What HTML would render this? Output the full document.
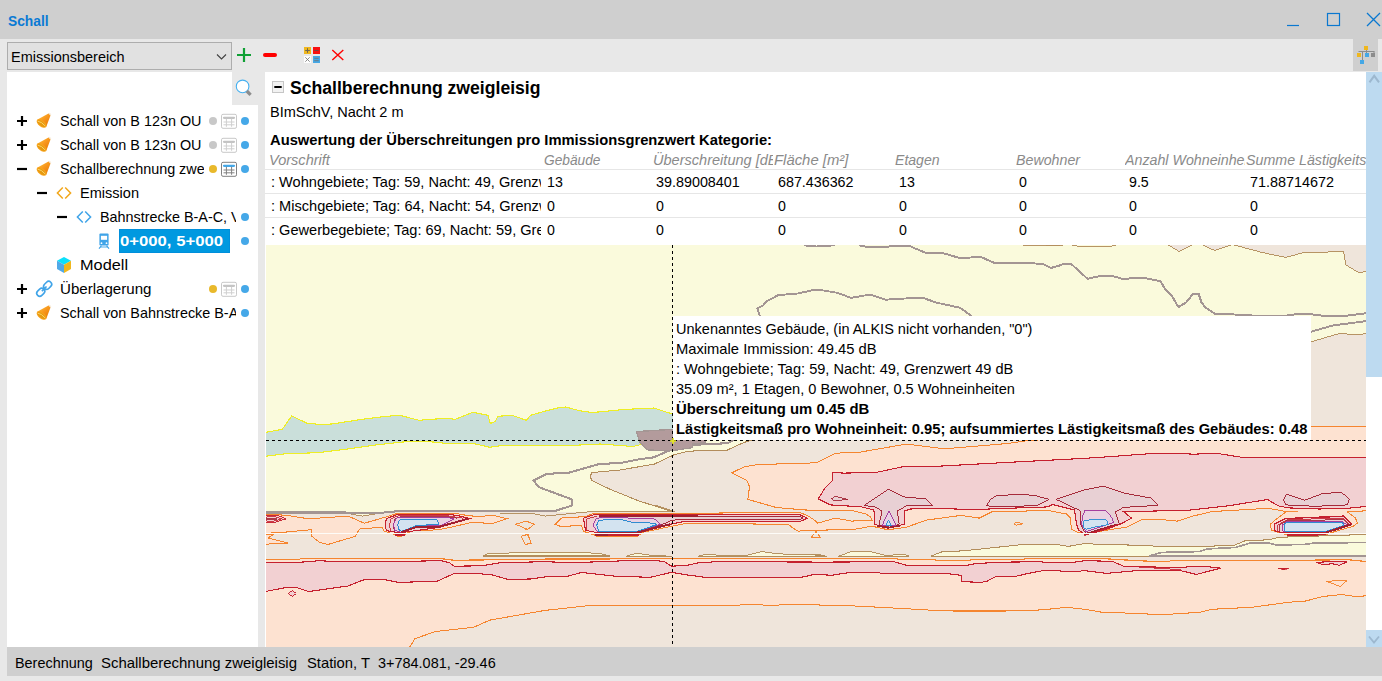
<!DOCTYPE html>
<html>
<head>
<meta charset="utf-8">
<title>Schall</title>
<style>
html,body{margin:0;padding:0;}
body{width:1382px;height:681px;overflow:hidden;background:#e8e8e8;font-family:"Liberation Sans",sans-serif;color:#000;position:relative;}
.abs{position:absolute;}
.t{position:absolute;white-space:nowrap;line-height:1;}
#titlebar{left:0;top:0;width:1382px;height:38.5px;background:#cfcfcf;}
#toolbar{left:0;top:38.5px;width:1382px;height:33.5px;background:#e8e8e8;}
#combo{left:7px;top:42px;width:223px;height:26px;border:1px solid #adadad;background:#e1e1e1;}
#leftpanel{left:7px;top:72px;width:251px;height:575px;background:#fff;}
#searchbtn{left:232px;top:72px;width:26px;height:33px;background:#e8e8e8;}
#rightpanel{left:265px;top:72px;width:1101px;height:575px;background:#fff;}
#statusbar{left:7px;top:647px;width:1375px;height:29px;background:#cfcfcf;}
#bottom{left:0;top:676px;width:1382px;height:5px;background:#e8e8e8;}
.tree{font-size:15px;}
.hd{font-size:15px;font-style:italic;color:#808080;}
.cell{font-size:15px;}
.tip{font-size:15px;}
.b{font-weight:bold;}
</style>
</head>
<body>
<div id="titlebar" class="abs"></div>
<div id="toolbar" class="abs"></div>
<div id="combo" class="abs"></div>
<div id="leftpanel" class="abs"></div>
<div id="searchbtn" class="abs"></div>
<div id="rightpanel" class="abs"></div>
<div id="statusbar" class="abs"></div>
<div id="bottom" class="abs"></div>

<div class="abs" style="left:265px;top:169px;width:1101px;height:1px;background:#e6e6e6"></div>
<div class="abs" style="left:265px;top:193px;width:1101px;height:1px;background:#e6e6e6"></div>
<div class="abs" style="left:265px;top:217px;width:1101px;height:1px;background:#e6e6e6"></div>
<div class="abs" style="left:119px;top:229px;width:109px;height:22px;background:#0099e0;border:1px solid #008fdb"></div>
<div class="abs" id="sbthumb" style="left:1366px;top:72px;width:16px;height:305px;background:#bddaf0"></div>
<div class="abs" id="sbtrack" style="left:1366px;top:377px;width:16px;height:253px;background:#fff"></div>
<div class="abs" id="sbdown" style="left:1366px;top:630px;width:16px;height:17px;background:#bddaf0"></div>
<div class="abs" id="treebtn" style="left:1353px;top:39px;width:25px;height:32px;background:#cfcfcf"></div>
<!-- MAP -->
<svg id="map" class="abs" style="left:266px;top:245px" width="1100" height="402" viewBox="266 245 1100 402" shape-rendering="crispEdges">
<rect x="260" y="245" width="1110" height="402" fill="#fafadc"/>
<!--MAP-START-->
<path d="M752.0,440.0 L743.6,442.6 L727.4,450.0 L698.0,450.7 L687.8,451.4 L674.5,454.6 L654.0,464.2 L618.7,470.2 L591.9,472.5 L590.2,476.5 L591.9,480.6 L610.1,489.3 L638.5,500.8 L671.9,511.4 L555.0,512.3 L400.0,511.0 L382.0,512.7 L260.0,512.3 L260.0,647.0 L1372.0,647.0 L1372.0,333.3 L1354.0,334.7 L1340.0,333.3 L1311.0,341.8 Z" fill="#efe5db"/>
<path d="M1234.0,244.9 L1261.3,252.3 L1285.7,257.4 L1303.0,252.7 L1343.5,251.6 L1345.9,265.0 L1359.7,273.1 L1372.0,269.2 L1372.0,245.0 L1234.0,245.0 Z" fill="#efe5db"/>
<path d="M1234.0,244.9 L1261.3,252.3 L1285.7,257.4 L1303.0,252.7 L1343.5,251.6 L1345.9,265.0 L1359.7,273.1 L1372.0,269.2" fill="none" stroke="#b38d5c" stroke-width="0.94"/>
<path d="M1168.3,244.9 L1179.1,251.6 L1191.9,244.9 Z" fill="#efe5db"/>
<path d="M1168.3,244.9 L1179.1,251.6 L1191.9,244.9" fill="none" stroke="#b38d5c" stroke-width="0.94"/>
<path d="M1202.3,244.9 L1214.6,250.4 L1231.2,244.9 Z" fill="#efe5db"/>
<path d="M1202.3,244.9 L1214.6,250.4 L1231.2,244.9" fill="none" stroke="#b38d5c" stroke-width="0.94"/>
<path d="M1046.0,245.8 L1063.4,245.3" fill="none" stroke="#b38d5c" stroke-width="0.94"/>
<path d="M1071.9,245.3 L1080.7,246.5 L1108.5,246.5 L1115.5,245.3" fill="none" stroke="#b38d5c" stroke-width="0.94"/>
<path d="M1023.0,245.3 L1060.0,245.3" fill="none" stroke="#b38d5c" stroke-width="0.94"/>
<path d="M260.0,433.3 L282.2,429.4 L291.7,415.9 L306.5,423.0 L318.7,424.4 L331.9,424.0 L362.3,419.3 L386.6,416.3 L399.7,415.3 L419.0,420.3 L445.3,418.3 L455.4,419.3 L472.7,412.2 L487.9,415.3 L490.3,423.4 L495.0,421.7 L498.0,416.3 L512.2,415.3 L526.4,420.3 L530.4,415.3 L545.0,411.2 L560.0,407.3 L566.0,407.0 L579.0,410.6 L592.3,412.5 L604.0,411.5 L623.0,409.5 L654.0,408.0 L662.8,411.0 L672.5,414.0 L672.5,444.0 L642.0,444.2 L633.0,446.5 L600.0,444.0 L570.0,445.5 L545.0,445.2 L504.1,445.2 L489.9,447.3 L473.7,443.6 L447.3,443.6 L433.2,442.0 L414.9,441.2 L402.8,442.0 L378.5,444.6 L350.1,448.7 L317.7,452.7 L285.3,453.8 L260.0,457.0 Z" fill="#cadfda"/>
<path d="M260.0,433.3 L282.2,429.4 L291.7,415.9 L306.5,423.0 L318.7,424.4 L331.9,424.0 L362.3,419.3 L386.6,416.3 L399.7,415.3 L419.0,420.3 L445.3,418.3 L455.4,419.3 L472.7,412.2 L487.9,415.3 L490.3,423.4 L495.0,421.7 L498.0,416.3 L512.2,415.3 L526.4,420.3 L530.4,415.3 L545.0,411.2 L560.0,407.3 L566.0,407.0 L579.0,410.6 L592.3,412.5 L604.0,411.5 L623.0,409.5 L654.0,408.0 L662.8,411.0 L672.5,414.0" fill="none" stroke="#eeee25" stroke-width="1.10"/>
<path d="M672.5,444.0 L642.0,444.2 L633.0,446.5 L600.0,444.0 L570.0,445.5 L545.0,445.2 L504.1,445.2 L489.9,447.3 L473.7,443.6 L447.3,443.6 L433.2,442.0 L414.9,441.2 L402.8,442.0 L378.5,444.6 L350.1,448.7 L317.7,452.7 L285.3,453.8 L260.0,457.0" fill="none" stroke="#eeee25" stroke-width="1.10"/>
<path d="M805.0,463.4 L817.2,462.4 L835.4,453.2 L859.7,452.2 L906.3,444.1 L944.8,448.8 L1007.6,443.5 L1027.9,440.5 L1311.0,426.3 L1372.0,426.3 L1372.0,510.4 L1347.4,512.0 L1355.5,518.1 L1357.5,523.1 L1353.4,526.2 L1329.1,533.3 L1285.6,534.3 L1277.5,532.3 L1271.4,530.2 L1270.4,524.1 L1276.4,519.1 L1286.6,511.6 L1268.3,508.3 L1211.6,511.6 L1193.4,516.0 L1177.2,521.1 L1163.0,519.7 L1142.7,519.1 L1126.5,527.2 L1106.3,530.2 L1086.0,534.3 L1076.5,531.8 L1071.4,529.2 L1070.4,518.1 L1066.4,514.0 L1048.1,510.4 L991.4,512.0 L979.2,518.1 L961.0,515.4 L926.6,520.1 L906.3,527.2 L888.1,529.8 L871.9,526.2 L851.6,529.8 L805.0,530.2 L798.3,531.3 L793.2,528.3 L788.1,524.2 L684.8,523.6 L666.6,527.3 L642.3,532.4 L638.2,535.8 L598.7,536.4 L592.6,534.4 L583.5,531.3 L581.5,525.7 L560.2,526.3 L555.1,524.2 L562.2,517.6 L584.5,516.8 L593.6,513.5 L800.3,512.7 L808.4,516.1 L814.5,520.2 L817.5,523.2 L835.4,518.1 L851.6,521.1 L871.9,520.1 L870.8,517.1 L865.8,514.0 L851.6,510.4 L805.0,510.0 L776.2,507.5 L747.9,499.4 L749.5,486.7 L746.9,480.6 L731.7,472.9 L743.8,467.0 L758.0,464.4 Z" fill="#fde2d1" stroke="#f5852f" stroke-width="1.02"/>
<path d="M260.0,559.3 L299.4,559.3 L301.5,558.3 L441.3,558.7 L454.4,560.3 L545.0,559.1 L686.8,558.7 L825.0,558.7 L896.2,558.3 L898.2,559.3 L934.7,559.7 L936.7,560.7 L965.1,560.7 L973.2,559.7 L1023.8,559.3 L1025.8,558.1 L1085.0,558.7 L1096.1,558.2 L1120.4,559.7 L1150.8,561.3 L1169.1,561.3 L1173.1,560.1 L1314.9,560.1 L1347.4,559.7 L1372.0,562.1 L1372.0,595.5 L1355.5,596.5 L1341.3,594.5 L1323.0,596.5 L1304.8,601.2 L1288.6,602.2 L1252.1,607.3 L1211.6,609.3 L1199.5,612.3 L1167.0,614.4 L1154.9,614.4 L1134.6,613.3 L1102.2,612.3 L1085.0,609.3 L1066.4,607.3 L1042.0,609.9 L1005.6,611.0 L952.9,611.0 L934.7,610.4 L916.4,609.3 L880.0,607.3 L841.5,605.3 L825.0,605.3 L806.4,604.3 L767.9,605.3 L751.7,604.3 L735.4,605.3 L591.6,605.3 L545.0,610.4 L489.9,620.1 L473.7,627.2 L435.2,631.6 L414.9,638.7 L409.9,646.8 L260.0,652.0 Z" fill="#fde2d1"/>
<path d="M260.0,559.3 L299.4,559.3 L301.5,558.3 L441.3,558.7 L454.4,560.3 L545.0,559.1 L686.8,558.7 L825.0,558.7 L896.2,558.3 L898.2,559.3 L934.7,559.7 L936.7,560.7 L965.1,560.7 L973.2,559.7 L1023.8,559.3 L1025.8,558.1 L1085.0,558.7 L1096.1,558.2 L1120.4,559.7 L1150.8,561.3 L1169.1,561.3 L1173.1,560.1 L1314.9,560.1 L1347.4,559.7 L1372.0,562.1" fill="none" stroke="#f5852f" stroke-width="1.19"/>
<path d="M409.9,646.8 L414.9,638.7 L435.2,631.6 L473.7,627.2 L489.9,620.1 L545.0,610.4 L591.6,605.3 L735.4,605.3 L751.7,604.3 L767.9,605.3 L806.4,604.3 L825.0,605.3 L841.5,605.3 L880.0,607.3 L916.4,609.3 L934.7,610.4 L952.9,611.0 L1005.6,611.0 L1042.0,609.9 L1066.4,607.3 L1085.0,609.3 L1102.2,612.3 L1134.6,613.3 L1154.9,614.4 L1167.0,614.4 L1199.5,612.3 L1211.6,609.3 L1252.1,607.3 L1288.6,602.2 L1304.8,601.2 L1323.0,596.5 L1341.3,594.5 L1355.5,596.5 L1372.0,595.5" fill="none" stroke="#f5852f" stroke-width="1.02"/>
<path d="M260.0,562.7 L299.4,562.3 L319.7,560.7 L337.9,561.7 L406.8,561.3 L441.3,560.7 L449.4,562.7 L454.4,566.2 L481.8,565.8 L500.0,562.7 L545.0,561.7 L573.4,562.7 L626.0,560.7 L652.4,560.1 L664.5,561.7 L671.6,566.2 L686.8,565.4 L699.0,562.7 L717.2,561.7 L825.0,562.1 L894.1,561.7 L906.3,565.2 L967.1,565.2 L977.2,563.4 L1007.6,562.1 L1042.0,561.7 L1044.1,562.7 L1070.4,562.7 L1085.0,560.7 L1112.3,561.3 L1123.5,566.1 L1181.2,567.8 L1191.4,566.3 L1207.6,566.7 L1220.7,568.2 L1220.7,568.2 L1196.4,574.4 L1181.2,570.8 L1134.6,570.8 L1106.3,573.4 L1086.0,570.8 L1085.0,570.2 L1078.5,571.5 L1062.3,571.9 L1060.3,570.8 L1042.0,570.8 L1027.9,573.5 L1015.7,576.3 L995.4,576.9 L987.3,581.0 L981.3,582.4 L971.1,582.0 L962.0,581.6 L961.0,575.3 L946.8,573.5 L882.0,573.5 L877.9,572.5 L849.6,572.5 L831.3,575.3 L825.3,574.9 L811.1,574.9 L825.0,574.5 L814.5,574.5 L798.3,577.9 L788.1,577.9 L705.1,577.3 L686.8,574.9 L671.6,572.3 L650.4,577.3 L615.9,576.3 L581.5,572.5 L565.3,576.9 L545.0,576.9 L530.4,579.0 L508.1,579.4 L491.9,574.9 L481.8,573.9 L453.4,573.9 L437.2,581.2 L398.7,582.4 L384.5,579.6 L364.3,579.6 L348.1,586.0 L308.6,591.5 L295.4,587.1 L285.3,587.7 L260.0,592.5 Z" fill="#f2d0d2" stroke="#c5202e" stroke-width="1.10"/>
<path d="M1123.5,566.1 L1181.2,569.8" fill="none" stroke="#c5202e" stroke-width="0.85"/>
<path d="M288.3,593.5 L292.4,590.5 L296.4,593.5 L292.4,596.6 Z" fill="#f2d0d2" stroke="#c5202e" stroke-width="0.94"/>
<path d="M1316.0,562.1 L1347.4,561.7 L1339.3,565.3 L1332.2,563.7 L1323.0,564.7 Z" fill="#f2d0d2" stroke="#c5202e" stroke-width="1.02"/>
<path d="M1277.5,568.4 L1288.6,568.4 L1283.5,569.8 Z" fill="#c5202e" stroke="#c5202e" stroke-width="0.68"/>
<path d="M1326.1,581.3 L1347.4,580.3 L1340.3,586.4 Z" fill="none" stroke="#f5852f" stroke-width="0.94"/>
<path d="M260.0,514.5 L285.3,515.1 L308.6,518.8 L348.1,516.1 L364.3,523.2 L386.6,516.8 L397.1,513.5 L456.8,513.7 L469.9,515.9 L480.7,516.4 L492.6,515.3 L506.8,518.6 L492.6,523.5 L481.8,522.9 L472.0,522.4 L446.0,528.3 L439.5,529.4 L427.5,530.5 L415.6,530.2 L405.8,533.4 L400.4,535.9 L393.3,534.1 L387.4,532.1 L384.1,531.0 L381.9,527.3 L360.2,528.9 L357.2,532.4 L355.2,536.4 L327.8,544.5 L319.7,542.5 L312.0,536.4 L311.2,529.7 L282.2,532.4 L260.0,533.6 Z" fill="#fde2d1" stroke="#f5852f" stroke-width="1.02"/>
<path d="M260.0,535.3 L274.0,534.3 L268.0,538.0 L287.5,543.0 L260.0,544.5 Z" fill="#fde2d1" stroke="#f5852f" stroke-width="1.02"/>
<path d="M515.2,524.2 L526.4,521.2 L534.5,524.2 L527.4,529.3 Z" fill="none" stroke="#f5852f" stroke-width="0.94"/>
<path d="M521.3,536.4 L527.4,534.4 L531.4,543.5 L525.3,544.5 Z" fill="none" stroke="#f5852f" stroke-width="0.94"/>
<path d="M525.0,521.1 L534.1,524.1 L529.1,528.6 L525.0,529.8" fill="none" stroke="#f5852f" stroke-width="0.94"/>
<path d="M525.0,534.3 L528.0,534.3 L531.1,543.4 L525.0,544.4" fill="none" stroke="#f5852f" stroke-width="0.94"/>
<path d="M811.4,537.4 L816.1,531.3 L820.5,537.4 Z" fill="none" stroke="#f5852f" stroke-width="0.94"/>
<path d="M811.1,537.3 L816.1,531.2 L820.2,537.3 Z" fill="none" stroke="#f5852f" stroke-width="0.94"/>
<path d="M1013.7,523.7 L1016.7,522.1 L1022.8,523.7 L1016.7,525.2 Z" fill="none" stroke="#f5852f" stroke-width="0.94"/>
<path d="M1286.6,511.6 L1297.7,511.6" fill="none" stroke="#f5852f" stroke-width="0.94"/>
<path d="M832.4,472.5 L843.5,473.1 L875.9,472.5 L904.3,466.4 L934.7,466.4 L1007.6,462.4 L1085.0,458.3 L1106.3,456.9 L1150.8,453.6 L1183.3,453.6 L1193.4,454.2 L1215.7,453.2 L1242.0,457.3 L1372.0,457.3 L1372.0,505.9 L1347.4,508.3 L1319.0,509.0 L1288.6,507.9 L1278.5,505.9 L1269.4,500.8 L1268.3,499.4 L1227.8,505.9 L1187.3,510.4 L1123.5,511.6 L1131.6,518.1 L1120.4,524.1 L1106.3,529.2 L1086.0,534.9 L1078.5,530.2 L1076.5,524.1 L1074.5,510.0 L1052.2,504.5 L1048.1,506.9 L1007.6,508.3 L973.2,509.6 L934.7,508.3 L910.4,509.0 L904.3,511.0 L904.3,524.1 L898.2,525.8 L888.1,527.8 L880.0,526.2 L874.9,524.1 L873.9,510.0 L861.7,506.9 L830.3,504.9 L818.2,498.8 L825.3,487.7 L832.4,480.6 Z" fill="#f2d0d2" stroke="#c5202e" stroke-width="1.10"/>
<path d="M863.8,505.5 L888.1,489.3 L906.3,497.8 L925.5,498.2 L932.2,505.5 L906.3,505.9 L897.2,511.0 L899.2,524.1 L890.1,527.2 L879.0,525.2 L882.0,511.0 L874.9,506.9 Z" fill="#e8d0d4" stroke="#a01f30" stroke-width="0.94"/>
<path d="M831.3,498.8 L835.4,496.2 L847.5,499.4 L834.4,500.8 Z" fill="#e8d0d4" stroke="#a01f30" stroke-width="0.85"/>
<path d="M986.3,505.5 L990.4,499.8 L996.5,495.4 L1023.8,494.4 L1036.0,495.8 L1049.1,499.4 L1036.0,505.9 L991.4,506.3 Z" fill="#e8d0d4" stroke="#a01f30" stroke-width="0.94"/>
<path d="M1056.2,499.4 L1085.0,489.7 L1104.2,486.1 L1112.3,489.3 L1126.5,493.8 L1150.8,498.2 L1157.9,505.3 L1123.5,507.3 L1115.4,512.0 L1119.4,524.1 L1110.3,526.6 L1086.0,534.3 L1080.5,524.1 L1080.5,512.0 L1076.5,509.0 Z" fill="#e8d0d4" stroke="#a01f30" stroke-width="0.94"/>
<path d="M1283.5,499.8 L1286.6,494.2 L1304.8,500.2 L1322.0,493.8 L1341.3,492.1 L1349.4,499.4 L1347.4,504.9 L1314.9,506.3 L1285.6,504.9 Z" fill="#e8d0d4" stroke="#a01f30" stroke-width="0.94"/>
<path d="M882.0,525.6 L889.1,511.0 L896.2,525.6 Z" fill="#ead2e2" stroke="#a0349a" stroke-width="0.94"/>
<path d="M886.0,525.6 L888.5,520.1 L891.1,525.6 Z" fill="#d3e3f0" stroke="#2f8bd0" stroke-width="0.94"/>
<path d="M876.9,525.6 L888.1,527.8 L900.2,525.6" fill="none" stroke="#a01f30" stroke-width="1.70"/>
<path d="M1085.0,510.0 L1095.1,510.4 L1106.3,511.0 L1112.3,518.1 L1113.4,522.5 L1086.0,531.8 L1081.6,524.1 L1083.0,515.0 Z" fill="#ead2e2" stroke="#a0349a" stroke-width="0.94"/>
<path d="M1084.2,520.1 L1106.3,519.7 L1108.3,524.6 L1092.1,527.6 L1086.0,529.2 L1083.0,527.2 Z" fill="#d3e3f0" stroke="#2f8bd0" stroke-width="0.94"/>
<path d="M1116.4,524.6 L1086.0,533.9" fill="none" stroke="#a01f30" stroke-width="1.87"/>
<path d="M1119.4,524.1 L1084.0,535.7" fill="none" stroke="#c5202e" stroke-width="0.85"/>
<path d="M385.2,525.1 L386.3,518.6 L398.2,514.2 L446.0,514.2 L456.8,515.3 L469.9,518.6 L439.5,527.3 L416.7,530.5 L400.4,532.7 L390.6,531.6 L386.3,530.5 Z" fill="#f2d0d2" stroke="#c5202e" stroke-width="1.10"/>
<path d="M390.6,531.0 L389.5,525.1 L391.2,518.6 L399.3,515.6 L446.0,515.6 L463.3,518.2" fill="none" stroke="#c5202e" stroke-width="0.85"/>
<path d="M394.4,531.6 L393.3,525.1 L395.0,519.1 L400.4,516.7 L446.0,516.5 L456.8,518.2" fill="none" stroke="#a01f30" stroke-width="0.85"/>
<path d="M393.3,525.1 L396.0,518.6 L399.3,517.2 L444.9,517.2 L453.6,518.6 L439.5,525.6 L416.7,525.8 L400.4,532.1 L395.0,530.5 Z" fill="#ead2e2" stroke="#a0349a" stroke-width="0.94"/>
<path d="M397.7,525.1 L399.3,520.2 L401.5,519.1 L436.8,519.1 L438.9,524.5 L417.2,525.4 L401.5,531.4 L398.8,529.4 Z" fill="#d3e3f0" stroke="#2f8bd0" stroke-width="1.02"/>
<path d="M401.5,532.1 L417.2,526.7 L439.5,526.7 L467.7,518.8" fill="none" stroke="#a01f30" stroke-width="1.87"/>
<path d="M398.2,514.6 L446.0,514.6" fill="none" stroke="#c5202e" stroke-width="1.27"/>
<path d="M393.3,534.2 L407.0,534.2 L401.0,536.8 L398.0,536.8 Z" fill="#f5852f"/>
<path d="M395.0,535.0 L405.0,535.0" fill="none" stroke="#c5202e" stroke-width="1.27"/>
<path d="M260.0,515.5 L277.2,515.1 L286.3,518.8 L273.1,522.8 L260.0,522.2 Z" fill="#f2d0d2" stroke="#c5202e" stroke-width="0.94"/>
<path d="M260.0,517.2 L275.1,516.8 L282.2,518.8 L273.1,521.2 L260.0,520.8" fill="none" stroke="#c5202e" stroke-width="0.85"/>
<path d="M260.0,518.6 L273.1,518.2 L277.2,519.0 L272.1,520.0 L260.0,519.6" fill="none" stroke="#a01f30" stroke-width="0.85"/>
<path d="M583.5,518.2 L595.7,514.1 L798.3,514.1 L807.4,518.2 L799.3,521.8 L684.8,521.4 L670.6,524.2 L640.2,532.4 L595.7,532.4 L585.5,530.3 Z" fill="#f2d0d2" stroke="#c5202e" stroke-width="1.10"/>
<path d="M586.5,530.7 L586.1,519.2 L596.7,516.3" fill="none" stroke="#c5202e" stroke-width="0.85"/>
<path d="M599.0,532.3 L597.5,519.0 L602.0,516.2 L800.0,516.3 L803.0,518.0 L800.0,519.4 L680.0,519.4 L671.0,520.6 L660.0,525.5 L636.0,532.3 Z" fill="#e8d0d4" stroke="#a01f30" stroke-width="0.94"/>
<path d="M599.0,515.6 L698.0,515.6" fill="none" stroke="#a01f30" stroke-width="1.87"/>
<path d="M593.2,525.3 L595.7,519.2 L599.7,517.8 L653.4,518.2 L660.5,524.2 L636.2,531.7 L597.3,531.7 Z" fill="#ead2e2" stroke="#a0349a" stroke-width="0.94"/>
<path d="M596.7,525.3 L598.7,520.2 L620.0,519.2 L632.1,522.2 L654.4,523.2 L656.4,524.7 L637.2,531.3 L598.7,531.3 Z" fill="#d3e3f0" stroke="#2f8bd0" stroke-width="1.02"/>
<path d="M637.2,532.4 L670.6,524.2" fill="none" stroke="#a01f30" stroke-width="2.04"/>
<path d="M592.4,534.2 L641.8,534.2 L636.5,537.2 L597.5,537.2 Z" fill="#f5852f"/>
<path d="M595.0,535.2 L638.5,535.2" fill="none" stroke="#c5202e" stroke-width="1.44"/>
<path d="M595.0,535.2 L608.0,535.2" fill="none" stroke="#a01f30" stroke-width="1.44"/>
<path d="M1274.4,530.2 L1274.4,524.1 L1285.6,518.5 L1343.3,516.0 L1351.4,524.1 L1327.1,532.7 L1285.6,532.7 L1276.4,531.6 Z" fill="#f2d0d2" stroke="#c5202e" stroke-width="1.10"/>
<path d="M1285.6,518.5 L1343.3,516.4" fill="none" stroke="#c5202e" stroke-width="1.27"/>
<path d="M1277.5,531.2 L1277.5,524.6 L1286.6,519.7 L1342.9,518.1 L1349.4,524.1" fill="none" stroke="#c5202e" stroke-width="0.85"/>
<path d="M1279.9,531.4 L1279.9,525.0 L1286.6,520.7 L1342.5,519.7 L1348.2,524.6" fill="none" stroke="#a01f30" stroke-width="0.85"/>
<path d="M1282.1,530.6 L1282.1,525.2 L1286.6,521.5 L1342.3,521.1 L1347.0,525.2 L1326.1,531.8 L1283.5,531.8 Z" fill="#ead2e2" stroke="#a0349a" stroke-width="0.94"/>
<path d="M1284.6,530.2 L1284.6,524.1 L1286.6,522.5 L1342.3,522.5 L1344.3,525.2 L1325.1,531.6 L1285.6,531.6 Z" fill="#d3e3f0" stroke="#2f8bd0" stroke-width="1.02"/>
<path d="M1326.1,532.5 L1351.4,524.3" fill="none" stroke="#a01f30" stroke-width="2.04"/>
<path d="M1285.0,534.2 L1328.0,534.2 L1325.0,536.6 L1288.0,536.6 Z" fill="#f5852f"/>
<path d="M1286.5,535.0 L1326.0,535.0" fill="none" stroke="#c5202e" stroke-width="1.36"/>
<path d="M260.0,533.4 L1372.0,533.4" fill="none" stroke="#fdfcf8" stroke-width="1.02"/>
<path d="M482.8,556.1 L487.9,553.6 L545.0,552.0 L599.7,553.2 L609.8,556.3 L609.8,556.0 L482.8,556.0 Z" fill="#fafadc"/>
<path d="M482.8,556.1 L487.9,553.6 L545.0,552.0 L599.7,553.2 L609.8,556.3" fill="none" stroke="#b38d5c" stroke-width="0.94"/>
<path d="M482.8,556.0 L609.8,556.0" fill="none" stroke="#b38d5c" stroke-width="1.53"/>
<path d="M626.0,556.3 L636.2,553.2 L650.4,555.2 L671.6,556.3 L671.6,556.3 L626.0,556.3 Z" fill="#fafadc"/>
<path d="M626.0,556.3 L636.2,553.2 L650.4,555.2 L671.6,556.3" fill="none" stroke="#b38d5c" stroke-width="0.94"/>
<path d="M626.0,556.3 L671.6,556.3" fill="none" stroke="#b38d5c" stroke-width="1.53"/>
<path d="M698.0,556.3 L707.1,554.0 L717.2,555.2 L747.6,555.2 L761.8,551.6 L776.0,553.6 L794.2,554.6 L825.0,555.2 L811.1,554.5 L827.3,556.2 L827.3,556.3 L698.0,556.3 Z" fill="#fafadc"/>
<path d="M698.0,556.3 L707.1,554.0 L717.2,555.2 L747.6,555.2 L761.8,551.6 L776.0,553.6 L794.2,554.6 L825.0,555.2 L811.1,554.5 L827.3,556.2" fill="none" stroke="#b38d5c" stroke-width="0.94"/>
<path d="M698.0,556.3 L827.3,556.3" fill="none" stroke="#b38d5c" stroke-width="1.53"/>
<path d="M838.4,556.2 L851.6,551.5 L869.8,551.5 L886.0,555.5 L904.3,554.1 L909.3,556.2 L909.3,556.3 L838.4,556.3 Z" fill="#fafadc"/>
<path d="M838.4,556.2 L851.6,551.5 L869.8,551.5 L886.0,555.5 L904.3,554.1 L909.3,556.2" fill="none" stroke="#b38d5c" stroke-width="0.94"/>
<path d="M838.4,556.3 L909.3,556.3" fill="none" stroke="#b38d5c" stroke-width="1.53"/>
<path d="M930.6,556.2 L942.8,551.5 L963.0,550.9 L1023.8,544.4 L1056.2,544.4 L1068.4,546.4 L1085.0,543.4 L1098.2,544.4 L1146.8,545.4 L1156.9,546.4 L1189.3,546.8 L1233.9,545.4 L1246.1,540.4 L1268.3,539.9 L1278.5,537.3 L1372.0,534.3 L1372.0,556.5 L930.6,556.5 Z" fill="#fafadc"/>
<path d="M930.6,556.2 L942.8,551.5 L963.0,550.9 L1023.8,544.4 L1056.2,544.4 L1068.4,546.4 L1085.0,543.4 L1098.2,544.4 L1146.8,545.4 L1156.9,546.4 L1189.3,546.8 L1233.9,545.4 L1246.1,540.4 L1268.3,539.9 L1278.5,537.3 L1372.0,534.3" fill="none" stroke="#b38d5c" stroke-width="1.02"/>
<path d="M930.6,556.3 L1151.0,556.3" fill="none" stroke="#b38d5c" stroke-width="1.36"/>
<path d="M1148.8,556.2 L1161.0,552.5 L1199.5,551.5 L1207.6,548.9 L1235.9,547.4 L1250.1,543.0 L1268.3,543.0 L1276.4,545.0 L1304.8,544.4 L1314.9,543.0 L1372.0,542.4" fill="none" stroke="#a39593" stroke-width="1.70"/>
<path d="M1150.0,556.3 L1372.0,556.3" fill="none" stroke="#a39593" stroke-width="2.04"/>
<path d="M346.0,513.1 L362.3,516.1 L375.4,514.1 Z" fill="#fafadc"/>
<path d="M346.0,513.1 L362.3,516.1 L375.4,514.1" fill="none" stroke="#b38d5c" stroke-width="0.94"/>
<path d="M500.0,513.5 L518.3,513.1 L530.4,513.1 L545.0,516.1 L591.6,511.5 L674.7,511.5" fill="none" stroke="#b38d5c" stroke-width="0.94"/>
<path d="M260.0,512.5 L346.0,512.5 L352.0,513.5 L382.0,512.7 L400.0,511.0 L555.0,511.0 L572.0,505.5 L572.0,499.4 L539.2,487.3 L533.5,480.6 L545.3,474.5 L560.0,472.7 L568.8,472.7 L582.0,469.0 L599.6,463.9 L620.2,463.1 L637.8,459.5 L654.0,457.3 L668.7,450.7 L689.2,445.5 L706.8,444.0 L727.4,443.3 L734.0,440.0" fill="none" stroke="#a39593" stroke-width="2.04"/>
<path d="M674.7,511.5 L654.4,505.0" fill="none" stroke="#b38d5c" stroke-width="0.94"/>
<path d="M752.0,440.0 L743.6,442.6 L727.4,450.0 L698.0,450.7 L687.8,451.4 L674.5,454.6 L654.0,464.2 L618.7,470.2 L591.9,472.5 L590.2,476.5 L591.9,480.6 L610.1,489.3 L638.5,500.8 L671.9,511.4" fill="none" stroke="#b38d5c" stroke-width="1.02"/>
<path d="M803.7,245.3 L816.4,246.5 L834.9,245.3" fill="none" stroke="#a39593" stroke-width="1.95"/>
<path d="M859.2,245.3 L867.4,246.9 L888.2,246.9 L890.5,245.8 L909.0,245.8 L925.2,252.7 L941.4,252.7 L960.0,258.1 L980.8,256.9 L994.7,263.1 L1031.8,263.1 L1043.3,264.3 L1050.3,267.8 L1060.0,265.5 L1051.8,267.8 L1064.5,263.8 L1071.0,263.8 L1087.7,278.9 L1099.3,276.1 L1113.1,276.1 L1122.4,278.9 L1134.0,278.2 L1145.6,278.2 L1160.6,281.2 L1165.2,289.3 L1172.2,296.3 L1178.4,307.1 L1186.1,302.5 L1193.0,293.9 L1198.8,294.4 L1201.6,302.7 L1205.8,307.8 L1214.6,313.6 L1231.2,314.3 L1259.0,315.9 L1286.8,315.5 L1300.7,313.6 L1311.1,314.3 L1323.9,315.9 L1344.7,315.9 L1372.0,312.5" fill="none" stroke="#a39593" stroke-width="1.95"/>
<path d="M760.8,319.4 L757.4,308.3 L763.2,305.5 L765.5,302.0 L778.2,295.1 L797.9,293.5 L814.1,289.8 L823.4,290.5 L837.3,292.8 L851.1,297.9 L869.7,294.6 L885.9,299.7 L902.1,298.6 L922.9,297.9 L936.8,302.7 L960.0,307.8 L971.5,315.9" fill="none" stroke="#a39593" stroke-width="1.95"/>
<path d="M1311.0,331.7 L1333.0,325.4 L1372.0,320.4" fill="none" stroke="#a39593" stroke-width="1.95"/>
<path d="M1311.0,341.8 L1340.0,333.3 L1354.0,334.7 L1372.0,333.3" fill="none" stroke="#b38d5c" stroke-width="0.94"/>
<path d="M636.4,431.6 L672.3,429.4 L706.0,429.4 L705.4,442.6 L692.9,444.0 L692.0,447.7 L671.6,450.7 L648.0,450.0 L640.0,442.6 Z" fill="#b39b9c" stroke="#a59694" stroke-width="1.36"/>
<!--MAP-END-->
</svg>

<div class="abs" id="tipbox" style="left:673px;top:316px;width:638px;height:124px;background:#fff"></div>
<svg class="abs" style="left:0;top:0" width="1382" height="681" viewBox="0 0 1382 681">
<line x1="672.5" y1="245" x2="672.5" y2="645" stroke="#000" stroke-width="1" stroke-dasharray="3 3"/>
<line x1="266" y1="440.5" x2="1366" y2="440.5" stroke="#000" stroke-width="1" stroke-dasharray="3 3"/>
<path d="M670,441H676M673,438V444" stroke="#e8e822" stroke-width="1.6" fill="none"/>
</svg>
<!-- TEXTS -->
<div id="texts">
<!--TEXT-START-->
<span class="t" id="ttl" style="left:7.9px;top:13.6px;font-size:14.60px;font-weight:bold;color:#0a7ad4;"><span style="display:inline-block;transform:scaleX(0.9442);transform-origin:0 0;">Schall</span></span>
<span class="t" id="cmb" style="left:11.0px;top:48.7px;font-size:15.00px;"><span style="display:inline-block;transform:scaleX(0.9656);transform-origin:0 0;">Emissionsbereich</span></span>
<span class="t" id="tr1" style="left:59.8px;top:113.0px;font-size:15.00px;"><span style="display:inline-block;transform:scaleX(0.9587);transform-origin:0 0;">Schall von B 123n OU</span></span>
<span class="t" id="tr2" style="left:59.8px;top:137.0px;font-size:15.00px;"><span style="display:inline-block;transform:scaleX(0.9587);transform-origin:0 0;">Schall von B 123n OU</span></span>
<span class="t" id="tr3" style="left:59.8px;top:161.0px;font-size:15.00px;width:144.2px;overflow:hidden;padding-bottom:5px;"><span style="display:inline-block;transform:scaleX(0.9587);transform-origin:0 0;">Schallberechnung zweigleisig</span></span>
<span class="t" id="tr4" style="left:79.8px;top:185.0px;font-size:15.00px;"><span style="display:inline-block;transform:scaleX(0.9694);transform-origin:0 0;">Emission</span></span>
<span class="t" id="tr5" style="left:99.8px;top:209.0px;font-size:15.00px;width:136.7px;overflow:hidden;padding-bottom:5px;"><span style="display:inline-block;transform:scaleX(0.9587);transform-origin:0 0;">Bahnstrecke B-A-C, Variante</span></span>
<span class="t" id="tr6" style="left:119.7px;top:233.0px;font-size:15.00px;font-weight:bold;color:#fff;"><span style="display:inline-block;transform:scaleX(1.1124);transform-origin:0 0;">0+000, 5+000</span></span>
<span class="t" id="tr7" style="left:79.7px;top:257.0px;font-size:15.00px;"><span style="display:inline-block;transform:scaleX(1.0863);transform-origin:0 0;">Modell</span></span>
<span class="t" id="tr8" style="left:59.7px;top:281.0px;font-size:15.00px;"><span style="display:inline-block;transform:scaleX(1.0065);transform-origin:0 0;">Überlagerung</span></span>
<span class="t" id="tr9" style="left:59.8px;top:305.0px;font-size:15.00px;width:176.7px;overflow:hidden;padding-bottom:5px;"><span style="display:inline-block;transform:scaleX(0.9587);transform-origin:0 0;">Schall von Bahnstrecke B-A-C</span></span>
<span class="t" id="h1" style="left:289.8px;top:78.9px;font-size:18.00px;font-weight:bold;"><span style="display:inline-block;transform:scaleX(0.9783);transform-origin:0 0;">Schallberechnung zweigleisig</span></span>
<span class="t" id="h2" style="left:269.8px;top:103.7px;font-size:15.00px;"><span style="display:inline-block;transform:scaleX(0.9685);transform-origin:0 0;">BImSchV, Nacht 2 m</span></span>
<span class="t" id="h3" style="left:269.8px;top:131.7px;font-size:15.00px;font-weight:bold;"><span style="display:inline-block;transform:scaleX(0.9825);transform-origin:0 0;">Auswertung der Überschreitungen pro Immissionsgrenzwert Kategorie:</span></span>
<span class="t" id="c0" style="left:268.5px;top:151.9px;font-size:15.00px;font-style:italic;color:#8a8a8a;"><span style="display:inline-block;transform:scaleX(0.9698);transform-origin:0 0;">Vorschrift</span></span>
<span class="t" id="c1" style="left:543.5px;top:151.9px;font-size:15.00px;font-style:italic;color:#8a8a8a;"><span style="display:inline-block;transform:scaleX(0.9152);transform-origin:0 0;">Gebäude</span></span>
<span class="t" id="c2" style="left:653.1px;top:151.9px;font-size:15.00px;font-style:italic;color:#8a8a8a;width:119.9px;overflow:hidden;padding-bottom:5px;"><span style="display:inline-block;transform:scaleX(0.9698);transform-origin:0 0;">Überschreitung [dB]</span></span>
<span class="t" id="c3" style="left:773.6px;top:151.9px;font-size:15.00px;font-style:italic;color:#8a8a8a;"><span style="display:inline-block;transform:scaleX(0.9918);transform-origin:0 0;">Fläche [m²]</span></span>
<span class="t" id="c4" style="left:894.5px;top:151.9px;font-size:15.00px;font-style:italic;color:#8a8a8a;"><span style="display:inline-block;transform:scaleX(0.9380);transform-origin:0 0;">Etagen</span></span>
<span class="t" id="c5" style="left:1015.7px;top:151.9px;font-size:15.00px;font-style:italic;color:#8a8a8a;"><span style="display:inline-block;transform:scaleX(0.9490);transform-origin:0 0;">Bewohner</span></span>
<span class="t" id="c6" style="left:1125.1px;top:151.9px;font-size:15.00px;font-style:italic;color:#8a8a8a;width:119.9px;overflow:hidden;padding-bottom:5px;"><span style="display:inline-block;transform:scaleX(0.9490);transform-origin:0 0;">Anzahl Wohneinheiten</span></span>
<span class="t" id="c7" style="left:1246.3px;top:151.9px;font-size:15.00px;font-style:italic;color:#8a8a8a;width:119.7px;overflow:hidden;padding-bottom:5px;"><span style="display:inline-block;transform:scaleX(0.9490);transform-origin:0 0;">Summe Lästigkeitsmaß</span></span>
<span class="t" id="r0a" style="left:271.4px;top:173.7px;font-size:15.00px;width:269.9px;overflow:hidden;padding-bottom:5px;"><span style="display:inline-block;transform:scaleX(0.9716);transform-origin:0 0;">: Wohngebiete; Tag: 59, Nacht: 49, Grenzwert 49 dB</span></span>
<span class="t" id="r0v0" style="left:547.3px;top:173.7px;font-size:15.00px;"><span style="display:inline-block;transform:scaleX(0.9450);transform-origin:0 0;">13</span></span>
<span class="t" id="r0v1" style="left:656.3px;top:173.7px;font-size:15.00px;"><span style="display:inline-block;transform:scaleX(0.9567);transform-origin:0 0;">39.89008401</span></span>
<span class="t" id="r0v2" style="left:777.8px;top:173.7px;font-size:15.00px;"><span style="display:inline-block;transform:scaleX(0.9527);transform-origin:0 0;">687.436362</span></span>
<span class="t" id="r0v3" style="left:898.6px;top:173.7px;font-size:15.00px;"><span style="display:inline-block;transform:scaleX(0.9450);transform-origin:0 0;">13</span></span>
<span class="t" id="r0v4" style="left:1019.3px;top:173.7px;font-size:15.00px;"><span style="display:inline-block;transform:scaleX(0.9450);transform-origin:0 0;">0</span></span>
<span class="t" id="r0v5" style="left:1129.3px;top:173.7px;font-size:15.00px;"><span style="display:inline-block;transform:scaleX(0.9450);transform-origin:0 0;">9.5</span></span>
<span class="t" id="r0v6" style="left:1250.3px;top:173.7px;font-size:15.00px;"><span style="display:inline-block;transform:scaleX(0.9601);transform-origin:0 0;">71.88714672</span></span>
<span class="t" id="r1a" style="left:271.4px;top:197.7px;font-size:15.00px;width:269.9px;overflow:hidden;padding-bottom:5px;"><span style="display:inline-block;transform:scaleX(0.9716);transform-origin:0 0;">: Mischgebiete; Tag: 64, Nacht: 54, Grenzwert 54 dB</span></span>
<span class="t" id="r1v0" style="left:547.3px;top:197.7px;font-size:15.00px;"><span style="display:inline-block;transform:scaleX(0.9450);transform-origin:0 0;">0</span></span>
<span class="t" id="r1v1" style="left:656.3px;top:197.7px;font-size:15.00px;"><span style="display:inline-block;transform:scaleX(0.9450);transform-origin:0 0;">0</span></span>
<span class="t" id="r1v2" style="left:777.8px;top:197.7px;font-size:15.00px;"><span style="display:inline-block;transform:scaleX(0.9450);transform-origin:0 0;">0</span></span>
<span class="t" id="r1v3" style="left:898.6px;top:197.7px;font-size:15.00px;"><span style="display:inline-block;transform:scaleX(0.9450);transform-origin:0 0;">0</span></span>
<span class="t" id="r1v4" style="left:1019.3px;top:197.7px;font-size:15.00px;"><span style="display:inline-block;transform:scaleX(0.9450);transform-origin:0 0;">0</span></span>
<span class="t" id="r1v5" style="left:1129.3px;top:197.7px;font-size:15.00px;"><span style="display:inline-block;transform:scaleX(0.9450);transform-origin:0 0;">0</span></span>
<span class="t" id="r1v6" style="left:1250.3px;top:197.7px;font-size:15.00px;"><span style="display:inline-block;transform:scaleX(0.9450);transform-origin:0 0;">0</span></span>
<span class="t" id="r2a" style="left:271.4px;top:221.7px;font-size:15.00px;width:269.9px;overflow:hidden;padding-bottom:5px;"><span style="display:inline-block;transform:scaleX(0.9716);transform-origin:0 0;">: Gewerbegebiete; Tag: 69, Nacht: 59, Grenzwert 59 dB</span></span>
<span class="t" id="r2v0" style="left:547.3px;top:221.7px;font-size:15.00px;"><span style="display:inline-block;transform:scaleX(0.9450);transform-origin:0 0;">0</span></span>
<span class="t" id="r2v1" style="left:656.3px;top:221.7px;font-size:15.00px;"><span style="display:inline-block;transform:scaleX(0.9450);transform-origin:0 0;">0</span></span>
<span class="t" id="r2v2" style="left:777.8px;top:221.7px;font-size:15.00px;"><span style="display:inline-block;transform:scaleX(0.9450);transform-origin:0 0;">0</span></span>
<span class="t" id="r2v3" style="left:898.6px;top:221.7px;font-size:15.00px;"><span style="display:inline-block;transform:scaleX(0.9450);transform-origin:0 0;">0</span></span>
<span class="t" id="r2v4" style="left:1019.3px;top:221.7px;font-size:15.00px;"><span style="display:inline-block;transform:scaleX(0.9450);transform-origin:0 0;">0</span></span>
<span class="t" id="r2v5" style="left:1129.3px;top:221.7px;font-size:15.00px;"><span style="display:inline-block;transform:scaleX(0.9450);transform-origin:0 0;">0</span></span>
<span class="t" id="r2v6" style="left:1250.3px;top:221.7px;font-size:15.00px;"><span style="display:inline-block;transform:scaleX(0.9450);transform-origin:0 0;">0</span></span>
<span class="t" id="tp1" style="left:675.9px;top:320.7px;font-size:15.00px;"><span style="display:inline-block;transform:scaleX(0.9675);transform-origin:0 0;">Unkenanntes Gebäude, (in ALKIS nicht vorhanden, "0")</span></span>
<span class="t" id="tp2" style="left:675.9px;top:340.7px;font-size:15.00px;"><span style="display:inline-block;transform:scaleX(0.9821);transform-origin:0 0;">Maximale Immission: 49.45 dB</span></span>
<span class="t" id="tp3" style="left:675.9px;top:360.7px;font-size:15.00px;"><span style="display:inline-block;transform:scaleX(0.9716);transform-origin:0 0;">: Wohngebiete; Tag: 59, Nacht: 49, Grenzwert 49 dB</span></span>
<span class="t" id="tp4" style="left:675.9px;top:380.7px;font-size:15.00px;"><span style="display:inline-block;transform:scaleX(0.9730);transform-origin:0 0;">35.09 m², 1 Etagen, 0 Bewohner, 0.5 Wohneinheiten</span></span>
<span class="t" id="tp5" style="left:676.3px;top:400.7px;font-size:15.00px;font-weight:bold;"><span style="display:inline-block;transform:scaleX(0.9910);transform-origin:0 0;">Überschreitung um 0.45 dB</span></span>
<span class="t" id="tp6" style="left:676.3px;top:420.7px;font-size:15.00px;font-weight:bold;"><span style="display:inline-block;transform:scaleX(0.9802);transform-origin:0 0;">Lästigkeitsmaß pro Wohneinheit: 0.95; aufsummiertes Lästigkeitsmaß des Gebäudes: 0.48</span></span>
<span class="t" id="s1" style="left:15.1px;top:654.6px;font-size:15.00px;"><span style="display:inline-block;transform:scaleX(0.9604);transform-origin:0 0;">Berechnung</span></span>
<span class="t" id="s2" style="left:100.5px;top:654.6px;font-size:15.00px;"><span style="display:inline-block;transform:scaleX(0.9960);transform-origin:0 0;">Schallberechnung zweigleisig</span></span>
<span class="t" id="s3" style="left:307.3px;top:654.6px;font-size:15.00px;"><span style="display:inline-block;transform:scaleX(0.9853);transform-origin:0 0;">Station, T</span></span>
<span class="t" id="s4" style="left:377.8px;top:654.6px;font-size:15.00px;"><span style="display:inline-block;transform:scaleX(0.9632);transform-origin:0 0;">3+784.081, -29.46</span></span>
<!--TEXT-END-->
</div>

<!-- ICONS -->
<svg id="icons" class="abs" style="left:0;top:0" width="1382" height="681" viewBox="0 0 1382 681">
<defs>
<linearGradient id="cg" x1="0.2" y1="0" x2="0.9" y2="0.8"><stop offset="0" stop-color="#ffc540"/><stop offset="0.5" stop-color="#f8981e"/><stop offset="1" stop-color="#ea7d08"/></linearGradient>
<g id="cone">
<path d="M5.4,-7.9 L6.9,-6.5 L2.4,5.4 L-6.9,-1.2 Z" fill="url(#cg)"/>
<ellipse cx="-2.4" cy="2.5" rx="5.8" ry="3.1" transform="rotate(38 -2.4 2.5)" fill="#f7a21c"/>
<ellipse cx="-2.5" cy="2.7" rx="4.6" ry="2.0" transform="rotate(38 -2.5 2.7)" fill="#e59a10"/>
<path d="M-6.3,0.2 Q-2.5,0.6 1.2,5.0" stroke="#ffd770" stroke-width="0.9" fill="none"/>
<path d="M5.2,-7.6 L6.6,-6.3" stroke="#f6efe2" stroke-width="1.3" stroke-linecap="round"/>
</g>
<g id="plus"><path d="M-5,0H5M0,-5V5" stroke="#000" stroke-width="2.2" fill="none"/></g>
<g id="minus"><path d="M-5,0H5" stroke="#000" stroke-width="2.2" fill="none"/></g>
<g id="tblg"><rect x="-7.5" y="-7" width="15" height="14" rx="1.5" fill="#fff" stroke="#c9c9c9" stroke-width="1"/><path d="M-5,-3.5H5" stroke="#c4c4c4" stroke-width="2.2" stroke-linecap="round"/><path d="M-5.5,0.7H5.5M-5.5,3.5H5.5M-2.6,-2.5V5.5M2.6,-2.5V5.5" stroke="#cfcfcf" stroke-width="1" fill="none"/></g>
<g id="tbla"><rect x="-7.5" y="-7" width="15" height="14" rx="1.5" fill="#fff" stroke="#808080" stroke-width="1"/><path d="M-5,-3.5H5" stroke="#45a8e8" stroke-width="2.2" stroke-linecap="round"/><path d="M-5.5,0.7H5.5M-5.5,3.5H5.5M-2.6,-2.5V5.5M2.6,-2.5V5.5" stroke="#808080" stroke-width="1" fill="none"/></g>
<g id="brk"><path d="M-1.2,-5.6L-6.6,0L-1.2,5.6M1.2,-5.6L6.6,0L1.2,5.6" stroke-width="1.5" fill="none"/></g>
</defs>
<!-- window buttons -->
<path d="M1287,25.5H1299" stroke="#0a78d0" stroke-width="1.2"/>
<rect x="1327.5" y="13.5" width="12" height="12" fill="none" stroke="#0a78d0" stroke-width="1.2"/>
<path d="M1367,13L1380,26M1380,13L1367,26" stroke="#0a78d0" stroke-width="1.3"/>
<!-- combo arrow -->
<path d="M217,54.5L221.5,59L226,54.5" stroke="#404040" stroke-width="1.1" fill="none"/>
<!-- toolbar icons -->
<path d="M237,55H251M244,48V62" stroke="#10a035" stroke-width="2.2" fill="none"/>
<path d="M265,55H275" stroke="#ff0000" stroke-width="4" stroke-linecap="round"/>
<rect x="304" y="47" width="7" height="7" fill="#efb71e"/><path d="M305.2,50.5H309.8M307.5,48.2V52.8" stroke="#6e6650" stroke-width="1"/>
<rect x="313" y="47" width="7" height="7" fill="#f81010"/><path d="M314.3,50.5H318.7" stroke="#7a4040" stroke-width="1"/>
<rect x="304" y="56" width="7" height="7" fill="#fdfdfd"/><path d="M305.3,57.3L309.7,61.7M309.7,57.3L305.3,61.7" stroke="#707070" stroke-width="0.8"/>
<rect x="313" y="56" width="7" height="7" fill="#45a8e6"/><path d="M314.3,58.3H318.7M314.3,60.7H318.7" stroke="#6a7a86" stroke-width="1"/>
<path d="M332.3,50L343.3,60M343.3,50L332.3,60" stroke="#ff0000" stroke-width="1.4"/>
<!-- search -->
<circle cx="242.6" cy="86.4" r="6.3" fill="#fff" stroke="#45b0f0" stroke-width="1.1"/>
<path d="M246.8,91L250.6,94.8" stroke="#8c8c8c" stroke-width="3.2" stroke-linecap="butt"/>
<!-- hierarchy button -->
<path d="M1358.5,51.5H1374.5M1366.5,47V51.5M1362.5,51.5V60M1374,51.5V53M1366.5,51.5V53" stroke="#8c8c8c" stroke-width="1" fill="none"/>
<rect x="1364" y="46" width="4" height="4" fill="#efb71e"/>
<rect x="1357" y="53" width="4" height="4" fill="#efb71e"/>
<rect x="1365" y="53" width="4" height="4" fill="#45a8e6"/>
<rect x="1371" y="53" width="4" height="4" fill="#8c8c8c"/>
<rect x="1360" y="60" width="4" height="4" fill="#45a8e6"/>
<!-- scrollbar arrows -->
<path d="M1369.5,82.3L1374.2,75.8L1379,82.3" stroke="#9db8cf" stroke-width="2" fill="none"/>
<path d="M1369,636.5L1374,642.5L1379,636.5" stroke="#9db8cf" stroke-width="1.8" fill="none"/>
<!-- collapse box -->
<rect x="272.5" y="81.5" width="11" height="11" fill="#f2f2f2" stroke="#c6c6c6" stroke-width="1"/>
<path d="M274.3,87H281.7" stroke="#000" stroke-width="2"/>
<!-- tree -->
<use href="#plus" x="22" y="121"/><use href="#cone" x="44" y="121"/>
<use href="#plus" x="22" y="145"/><use href="#cone" x="44" y="145"/>
<use href="#minus" x="22" y="169"/><use href="#cone" x="44" y="169"/>
<use href="#minus" x="42" y="193"/><use href="#brk" x="64" y="193" stroke="#f2a71b"/>
<use href="#minus" x="62" y="217"/><use href="#brk" x="84" y="217" stroke="#40a4e8"/>
<use href="#plus" x="22" y="289"/>
<use href="#plus" x="22" y="313"/><use href="#cone" x="44" y="313"/>
<!-- dots -->
<circle cx="213" cy="121" r="4" fill="#c8c8c8"/><use href="#tblg" x="229" y="121.3"/><circle cx="245" cy="121" r="4" fill="#45a8e8"/>
<circle cx="213" cy="145" r="4" fill="#c8c8c8"/><use href="#tblg" x="229" y="145.3"/><circle cx="245" cy="145" r="4" fill="#45a8e8"/>
<circle cx="213" cy="169" r="4" fill="#e9b92b"/><use href="#tbla" x="229" y="169.3"/><circle cx="245" cy="169" r="4" fill="#45a8e8"/>
<circle cx="245" cy="217" r="4" fill="#45a8e8"/>
<circle cx="245" cy="241" r="4" fill="#45a8e8"/>
<circle cx="213" cy="289" r="4" fill="#e9b92b"/><use href="#tblg" x="229" y="289.3"/><circle cx="245" cy="289" r="4" fill="#45a8e8"/>
<circle cx="245" cy="313" r="4" fill="#45a8e8"/>
<!-- train -->
<g transform="translate(104,241)" fill="#40a4e8" stroke="none">
<path d="M-4.6,-6.5 Q-4.6,-7.5 -3.6,-7.5 H3.6 Q4.6,-7.5 4.6,-6.5 V3.6 Q4.6,4.6 3.6,4.6 H-3.6 Q-4.6,4.6 -4.6,3.6 Z"/>
<rect x="-3.1" y="-5.2" width="6.2" height="4" fill="#fff"/>
<circle cx="-2.5" cy="2.2" r="0.9" fill="#fff"/><circle cx="2.5" cy="2.2" r="0.9" fill="#fff"/>
<path d="M-2.5,4.6L-5,7.6M2.5,4.6L5,7.6" stroke="#40a4e8" stroke-width="1.2" fill="none"/>
<path d="M-3.5,6H3.5" stroke="#40a4e8" stroke-width="0.9"/>
</g>
<!-- cube -->
<g transform="translate(64,265)">
<path d="M0,-8L7,-4.2L0,-0.2L-7,-4.2Z" fill="#0be0fb"/>
<path d="M-7,-4.2L0,-0.2V8L-7,4Z" fill="#51a9e8"/>
<path d="M7,-4.2L0,-0.2V8L7,4Z" fill="#f0b71e"/>
</g>
<!-- chain -->
<g transform="translate(44.2,288.8) rotate(-45) scale(0.93)" fill="none" stroke="#40a4e8" stroke-width="1.7">
<rect x="-10" y="-3.2" width="9.5" height="6.4" rx="3.2"/>
<rect x="0.5" y="-3.2" width="9.5" height="6.4" rx="3.2"/>
<path d="M-3.5,0H3.5" stroke-width="1.8"/>
</g>
</svg>
</body>
</html>
